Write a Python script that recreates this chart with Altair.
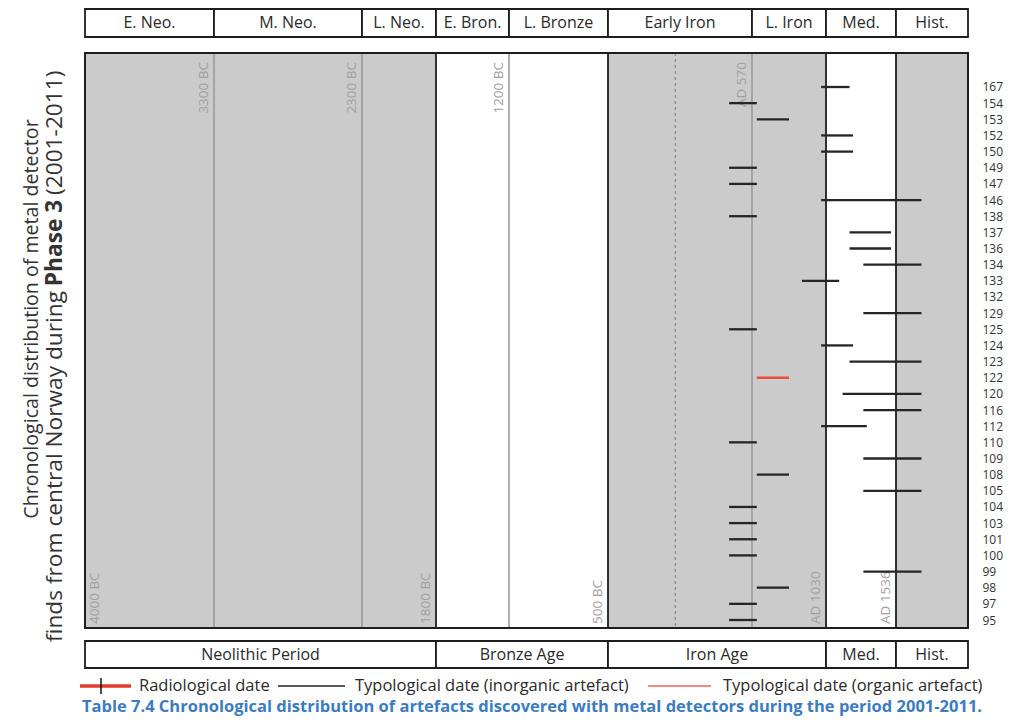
import altair as alt
import numpy as np
import pandas as pd

# ---------------- data ----------------
period_labels = ["E. Neo.", "M. Neo.", "L. Neo.", "E. Bron.", "L. Bronze",
                 "Early Iron", "L. Iron", "Med.", "Hist."]
period_bounds = [-4000, -3300, -2300, -1800, -1200, -500, 570, 1030, 1536, 2000]

age_labels = ["Neolithic Period", "Bronze Age", "Iron Age", "Med.", "Hist."]
age_bounds = [-4000, -1800, -500, 1030, 1536, 2000]

line_years = [-3300, -2300, -1800, -1200, -500, 0, 570, 1030, 1536]
line_kind = ["sub", "sub", "major", "sub", "major", "minor", "sub", "major", "major"]

marker_years = [-4000, -3300, -2300, -1800, -1200, -500, 570, 1030, 1536]
marker_text = ["4000 BC", "3300 BC", "2300 BC", "1800 BC", "1200 BC",
               "500 BC", "AD 570", "AD 1030", "AD 1536"]
marker_end = ["bottom", "top", "top", "bottom", "top", "bottom", "top", "bottom", "bottom"]

row_ids = ["167", "154", "153", "152", "150", "149", "147", "146", "138", "137",
           "136", "134", "133", "132", "129", "125", "124", "123", "122", "120",
           "116", "112", "110", "109", "108", "105", "104", "103", "101", "100",
           "99", "98", "97", "95"]

find_ids = ["167", "154", "153", "152", "150", "149", "147", "146", "138", "137",
            "136", "134", "133", "129", "125", "124", "123", "122", "120",
            "116", "112", "110", "109", "108", "105", "104", "103", "101", "100",
            "99", "98", "97", "95"]
find_start = [1000, 400, 600, 1000, 1000, 400, 400, 1000, 400, 1200,
              1200, 1300, 880, 1300, 400, 1000, 1200, 600, 1150,
              1300, 1000, 400, 1300, 600, 1300, 400, 400, 400, 400,
              1300, 600, 400, 400]
find_end = [1200, 600, 800, 1225, 1225, 600, 600, 1700, 600, 1500,
            1500, 1700, 1125, 1700, 600, 1225, 1700, 800, 1700,
            1700, 1325, 600, 1700, 800, 1700, 600, 600, 600, 600,
            1700, 800, 600, 600]
find_type = ["inorganic"] * 33
find_type[find_ids.index("122")] = "organic"

legend_labels = ["Radiological date", "Typological date (inorganic artefact)",
                 "Typological date (organic artefact)"]
caption = ("Table 7.4 Chronological distribution of artefacts discovered with "
           "metal detectors during the period 2001-2011.")
title_line1 = "Chronological distribution of metal detector"
title_line2 = ["finds from central Norway during", "Phase 3", "(2001-2011)"]

# ---------------- scales ----------------
X_RANGE = [0, 129, 277, 351, 424, 523, 667, 741, 811, 883]
W, H = 883, 575
xs = alt.Scale(domain=period_bounds, range=X_RANGE, nice=False, zero=False)
ys = alt.Scale(domain=[-2.105, 33.495], reverse=True, nice=False, zero=False)


def to_px(v):
    return np.interp(v, period_bounds, X_RANGE)


def to_year(p):
    return float(np.interp(p, X_RANGE, period_bounds))


def mid_year(a, b):
    return to_year((to_px(a) + to_px(b)) / 2)


FONT = "Open Sans"
DARK = "#1e1e1e"
GRAY = "#cbcbcb"
TXT = "#2a2a2a"

periods = pd.DataFrame({"label": period_labels, "start": period_bounds[:-1],
                        "end": period_bounds[1:]})
periods["mid"] = [mid_year(a, b) for a, b in zip(periods.start, periods.end)]

ages = pd.DataFrame({"label": age_labels, "start": age_bounds[:-1], "end": age_bounds[1:]})
ages["mid"] = [mid_year(a, b) for a, b in zip(ages.start, ages.end)]

lines = pd.DataFrame({"year": line_years, "kind": line_kind})
markers = pd.DataFrame({"year": marker_years, "text": marker_text, "end": marker_end})
finds = pd.DataFrame({"id": find_ids, "start": find_start, "end": find_end, "type": find_type})
finds["pos"] = [row_ids.index(i) for i in find_ids]
frame = pd.DataFrame({"start": [period_bounds[0]], "end": [period_bounds[-1]]})

label_expr = "[" + ",".join(f"'{r}'" for r in row_ids) + "][datum.value]"

# ---------------- layers ----------------
bg = alt.Chart(ages).mark_rect().encode(
    x=alt.X("start:Q", scale=xs, axis=None),
    x2="end:Q",
    fill=alt.Fill("label:N", scale=alt.Scale(domain=age_labels,
                  range=[GRAY, "#ffffff", GRAY, "#ffffff", GRAY]), legend=None),
)

sub_lines = alt.Chart(lines).transform_filter("datum.kind == 'sub'").mark_rule(
    color="#9a9a9a", strokeWidth=1.6).encode(x=alt.X("year:Q", scale=xs))
minor_lines = alt.Chart(lines).transform_filter("datum.kind == 'minor'").mark_rule(
    color="#8a8a8a", strokeWidth=1.2, strokeDash=[3, 3]).encode(x=alt.X("year:Q", scale=xs))
major_lines = alt.Chart(lines).transform_filter("datum.kind == 'major'").mark_rule(
    color=DARK, strokeWidth=1.8).encode(x=alt.X("year:Q", scale=xs))

MK = dict(angle=270, font=FONT, fontSize=13.5, color="#a0a0a0")
mk_top = alt.Chart(markers).transform_filter("datum.end == 'top'").mark_text(
    align="right", baseline="bottom", xOffset=-3, **MK).encode(
    x=alt.X("year:Q", scale=xs), y=alt.value(9), text="text:N")
mk_bot = alt.Chart(markers).transform_filter(
    "datum.end == 'bottom' && datum.year > -4000").mark_text(
    align="left", baseline="bottom", xOffset=-3, **MK).encode(
    x=alt.X("year:Q", scale=xs), y=alt.value(571), text="text:N")
mk_first = alt.Chart(markers).transform_filter("datum.year == -4000").mark_text(
    align="left", baseline="top", xOffset=3, **MK).encode(
    x=alt.X("year:Q", scale=xs), y=alt.value(571), text="text:N")

segs = alt.Chart(finds).mark_rule(strokeWidth=2.3).encode(
    x=alt.X("start:Q", scale=xs),
    x2="end:Q",
    y=alt.Y("pos:Q", scale=ys, title=None,
            axis=alt.Axis(orient="right", ticks=False, domain=False, grid=False,
                          values=list(range(len(row_ids))), labelExpr=label_expr,
                          labelPadding=14, labelFontSize=12, labelFont=FONT,
                          labelColor="#333333", labelBaseline="middle")),
    stroke=alt.Stroke("type:N", scale=alt.Scale(domain=["inorganic", "organic"],
                      range=["#252525", "#ee4b3f"]), legend=None),
)

frame_l = alt.Chart(frame).mark_rect(fillOpacity=0, stroke=DARK, strokeWidth=2).encode(
    x=alt.X("start:Q", scale=xs), x2="end:Q", y=alt.value(0), y2=alt.value(H))

# header
head_box = alt.Chart(periods).mark_rect(fill="white", stroke=DARK, strokeWidth=1.8).encode(
    x=alt.X("start:Q", scale=xs), x2="end:Q", y=alt.value(-44), y2=alt.value(-16))
head_txt = alt.Chart(periods).mark_text(font=FONT, fontSize=16, color=TXT,
                                        baseline="middle").encode(
    x=alt.X("mid:Q", scale=xs), y=alt.value(-30), text="label:N")

# footer
foot_box = alt.Chart(ages).mark_rect(fill="white", stroke=DARK, strokeWidth=1.8).encode(
    x=alt.X("start:Q", scale=xs), x2="end:Q", y=alt.value(588), y2=alt.value(615))
foot_txt = alt.Chart(ages).mark_text(font=FONT, fontSize=16, color=TXT,
                                     baseline="middle").encode(
    x=alt.X("mid:Q", scale=xs), y=alt.value(602), text="label:N")

# left title
one = pd.DataFrame({"k": [0]})
t1 = alt.Chart(pd.DataFrame({"t": [title_line1]})).mark_text(
    angle=270, font=FONT, fontSize=19.6, color="#333333", align="center",
    baseline="middle").encode(x=alt.value(-53), y=alt.value(266), text="t:N")
PC = 190
GAP = 48
T2 = 22.7
t2a = alt.Chart(pd.DataFrame({"t": [title_line2[0]]})).mark_text(
    angle=270, font=FONT, fontSize=T2, color="#333333", align="right",
    baseline="middle").encode(x=alt.value(-30), y=alt.value(PC + GAP), text="t:N")
t2b = alt.Chart(pd.DataFrame({"t": [title_line2[1]]})).mark_text(
    angle=270, font=FONT, fontSize=T2, fontWeight="bold", color="#333333",
    align="center", baseline="middle").encode(x=alt.value(-30), y=alt.value(PC), text="t:N")
t2c = alt.Chart(pd.DataFrame({"t": [title_line2[2]]})).mark_text(
    angle=270, font=FONT, fontSize=T2, color="#333333", align="left",
    baseline="middle").encode(x=alt.value(-30), y=alt.value(PC - GAP), text="t:N")

# legend
LY = 633
leg_red = alt.Chart(one).mark_rule(color="#e53a2f", strokeWidth=3.5).encode(
    x=alt.value(-5), x2=alt.value(46), y=alt.value(LY))
leg_tick = alt.Chart(one).mark_rule(color="#111111", strokeWidth=1.5).encode(
    x=alt.value(16), y=alt.value(LY - 8), y2=alt.value(LY + 8))
leg_black = alt.Chart(one).mark_rule(color="#222222", strokeWidth=1.6).encode(
    x=alt.value(193), x2=alt.value(260), y=alt.value(LY))
leg_org = alt.Chart(one).mark_rule(color="#f0625a", strokeWidth=1.6).encode(
    x=alt.value(563), x2=alt.value(626), y=alt.value(LY))
leg_df = pd.DataFrame({"t": legend_labels, "i": [0, 1, 2]})
leg_txt = []
for i, xpos in enumerate([54, 270, 638]):
    leg_txt.append(
        alt.Chart(leg_df).transform_filter(f"datum.i == {i}").mark_text(
            font=FONT, fontSize=16.5, color=TXT, align="left",
            baseline="middle").encode(x=alt.value(xpos), y=alt.value(LY), text="t:N"))

cap = alt.Chart(pd.DataFrame({"t": [caption]})).mark_text(
    font=FONT, fontSize=16.5, fontWeight="bold", color="#3b7cc0", align="center",
    baseline="middle").encode(x=alt.value(447), y=alt.value(654), text="t:N")

chart = alt.layer(
    bg, sub_lines, minor_lines, major_lines, mk_top, mk_bot, mk_first, segs, frame_l,
    head_box, head_txt, foot_box, foot_txt, t1, t2a, t2b, t2c,
    leg_red, leg_tick, leg_black, leg_org, *leg_txt, cap,
).properties(
    width=W, height=H,
    autosize=alt.AutoSizeParams(type="none"),
    padding={"left": 77, "top": 45, "right": 36, "bottom": 88},
).configure_view(stroke=None)

chart.save("out.html", embed_options={"renderer": "svg", "actions": False})
